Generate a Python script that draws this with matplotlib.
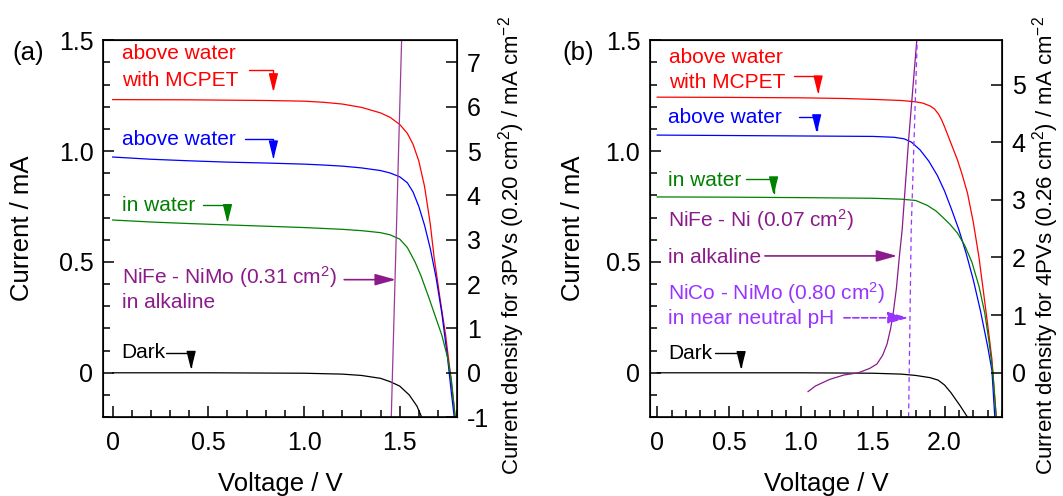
"""
I-V curves of the PV modules with the electrolyser load curves, panels (a) and (b)
"""
import matplotlib
matplotlib.use('Agg')
import matplotlib.pyplot as plt

plt.rcParams['font.family'] = 'Liberation Sans'
plt.rcParams['mathtext.fontset'] = 'custom'
plt.rcParams['mathtext.rm'] = 'Liberation Sans'
plt.rcParams['mathtext.default'] = 'regular'

# ---- panel (a): 3 PVs, 0.20 cm2 ----
area_a = 0.20
a_v_mcpet = [0, 0.4, 0.8, 1.0, 1.1, 1.2, 1.3, 1.4, 1.45, 1.5, 1.54, 1.57, 1.6, 1.63, 1.66, 1.68, 1.71, 1.74, 1.76, 1.78, 1.79]
a_i_mcpet = [1.232, 1.231, 1.228, 1.225, 1.22, 1.212, 1.197, 1.172, 1.152, 1.12, 1.08, 1.03, 0.955, 0.84, 0.67, 0.52, 0.34, 0.17, 0.03, -0.12, -0.2]
a_v_above = [0, 0.2, 0.4, 0.6, 0.8, 1.0, 1.1, 1.2, 1.3, 1.4, 1.45, 1.5, 1.54, 1.57, 1.6, 1.63, 1.66, 1.69, 1.72, 1.75, 1.77, 1.785]
a_i_above = [0.973, 0.963, 0.956, 0.95, 0.946, 0.941, 0.937, 0.932, 0.924, 0.912, 0.901, 0.884, 0.857, 0.815, 0.75, 0.665, 0.56, 0.43, 0.27, 0.07, -0.09, -0.2]
a_v_water = [0, 0.2, 0.4, 0.6, 0.8, 1.0, 1.2, 1.3, 1.4, 1.45, 1.5, 1.54, 1.58, 1.61, 1.65, 1.68, 1.72, 1.75, 1.77, 1.79]
a_i_water = [0.689, 0.68, 0.673, 0.667, 0.661, 0.655, 0.647, 0.641, 0.632, 0.622, 0.603, 0.565, 0.5, 0.44, 0.345, 0.27, 0.17, 0.07, -0.03, -0.2]
a_v_dark = [0, 0.5, 1.0, 1.2, 1.3, 1.4, 1.45, 1.5, 1.55, 1.59, 1.615]
a_i_dark = [0, 0, -0.002, -0.006, -0.012, -0.025, -0.04, -0.06, -0.1, -0.15, -0.2]
a_v_nifemo = [1.456, 1.51]
a_i_nifemo = [-0.2, 1.5]

# ---- panel (b): 4 PVs, 0.26 cm2 ----
area_b = 0.26
b_v_mcpet = [0, 0.5, 1.0, 1.3, 1.5, 1.7, 1.8, 1.85, 1.9, 1.93, 1.96, 1.98, 2.0, 2.03, 2.06, 2.09, 2.12, 2.16, 2.2, 2.24, 2.27, 2.3, 2.33, 2.36]
b_i_mcpet = [1.243, 1.242, 1.24, 1.237, 1.233, 1.228, 1.222, 1.216, 1.203, 1.19, 1.165, 1.14, 1.11, 1.06, 1.01, 0.96, 0.9, 0.81, 0.68, 0.52, 0.37, 0.22, 0.06, -0.2]
b_v_above = [0, 0.5, 1.0, 1.5, 1.65, 1.72, 1.77, 1.83, 1.89, 1.95, 2.0, 2.05, 2.1, 2.15, 2.2, 2.25, 2.3, 2.33, 2.35]
b_i_above = [1.072, 1.07, 1.068, 1.066, 1.062, 1.055, 1.04, 1.005, 0.955, 0.89, 0.82, 0.735, 0.645, 0.54, 0.42, 0.28, 0.12, 0.01, -0.2]
b_v_water = [0, 0.5, 1.0, 1.5, 1.7, 1.8, 1.88, 1.94, 1.99, 2.04, 2.09, 2.14, 2.19, 2.24, 2.28, 2.31, 2.335, 2.36]
b_i_water = [0.793, 0.792, 0.79, 0.787, 0.783, 0.777, 0.755, 0.73, 0.70, 0.668, 0.63, 0.575, 0.5, 0.39, 0.27, 0.14, 0.01, -0.2]
b_v_dark = [0, 1.0, 1.5, 1.7, 1.8, 1.9, 1.955, 2.0, 2.045, 2.11, 2.16]
b_i_dark = [0, 0, -0.002, -0.006, -0.012, -0.022, -0.033, -0.055, -0.09, -0.15, -0.2]
b_v_nifeni = [1.05, 1.1, 1.2, 1.3, 1.4, 1.48, 1.53, 1.57, 1.6, 1.625, 1.645, 1.665, 1.685, 1.705, 1.75, 1.807]
b_i_nifeni = [-0.085, -0.06, -0.03, -0.01, 0.0, 0.02, 0.04, 0.08, 0.13, 0.2, 0.28, 0.38, 0.52, 0.644, 1.05, 1.5]
b_v_nicomo = [1.75, 1.768, 1.81]
b_i_nicomo = [-0.2, 0.644, 1.5]

RED, BLUE, GREEN = '#ff0000', '#0000ff', '#008000'
PURPLE, VIOLET = '#8b1a8b', '#9933ff'
FS_TICK, FS_LAB, FS_TXT = 18, 18.5, 15


def elbow(ax, x0, y0, x1, y1, color, ls='-'):
    # horizontal leader from the label, then down to the curve
    ax.annotate('', xy=(x1, y1), xytext=(x0, y0),
                arrowprops=dict(arrowstyle='-|>,head_length=0.8,head_width=0.2',
                                color=color, lw=1, ls=ls, mutation_scale=14,
                                connectionstyle='angle,angleA=0,angleB=90,rad=0',
                                shrinkA=0, shrinkB=0))


def straight(ax, x0, y0, x1, y1, color, ls='-'):
    ax.annotate('', xy=(x1, y1), xytext=(x0, y0),
                arrowprops=dict(arrowstyle='-|>,head_length=0.9,head_width=0.25',
                                color=color, lw=1.2, ls=ls, mutation_scale=14,
                                shrinkA=0, shrinkB=0))


def setup(ax, xlim, area, rlabel, rticks, lab_x, rlab_x):
    ax.set_xlim(*xlim)
    ax.set_ylim(-0.2, 1.5)
    xt = [t for t in [0, 0.5, 1.0, 1.5, 2.0] if t <= xlim[1]]
    ax.set_xticks(xt)
    ax.set_xticklabels(['0', '0.5', '1.0', '1.5', '2.0'][:len(xt)])
    ax.set_xticks([i / 10 for i in range(0, int(xlim[1] * 10) + 1)], minor=True)
    ax.set_yticks([0, 0.5, 1.0, 1.5])
    ax.set_yticklabels(['0', '0.5', '1.0', '1.5'])
    ax.set_yticks([i / 10 for i in range(-2, 16)], minor=True)
    ax.tick_params(which='both', direction='in', labelsize=FS_TICK, top=False, width=1.1)
    ax.tick_params(which='major', length=8)
    ax.tick_params(which='minor', length=5)
    ax.tick_params(axis='x', pad=10)
    ax.tick_params(axis='y', pad=7)
    for s in ax.spines.values():
        s.set_linewidth(1.2)
    ax.set_xlabel('Voltage / V', fontsize=FS_LAB, labelpad=12)
    ax.set_ylabel('Current / mA', fontsize=FS_LAB)
    ax.yaxis.set_label_coords(lab_x, 0.5)
    ax2 = ax.twinx()
    ax2.set_ylim(-0.2 / area, 1.5 / area)
    ax2.set_yticks(rticks)
    ax2.set_yticklabels([str(t) for t in rticks])
    ax2.tick_params(direction='in', labelsize=FS_TICK, length=8, width=1.1, pad=7)
    ax2.set_ylabel(rlabel, fontsize=16)
    ax2.yaxis.set_label_coords(rlab_x, 0.456)
    return ax2


fig = plt.figure(figsize=(10.63, 4.96), dpi=100)
ax1 = fig.add_axes([0.097, 0.159, 0.333, 0.760])
ax2 = fig.add_axes([0.6115, 0.159, 0.3311, 0.760])

# ---- (a) ----
lw = 0.9
ax1.plot(a_v_mcpet, a_i_mcpet, color=RED, lw=lw)
ax1.plot(a_v_above, a_i_above, color=BLUE, lw=lw)
ax1.plot(a_v_water, a_i_water, color=GREEN, lw=lw)
ax1.plot(a_v_dark, a_i_dark, color='black', lw=lw)
ax1.plot(a_v_nifemo, a_i_nifemo, color='#9a3a9a', lw=lw)
setup(ax1, (-0.05, 1.80), area_a,
      'Current density for 3PVs (0.20 cm$^2$) / mA cm$^{-2}$', [-1, 0, 1, 2, 3, 4, 5, 6, 7],
      -0.195, 1.11)

ax1.text(0.047, 1.44, 'above water', color=RED, fontsize=FS_TXT, va='center')
ax1.text(0.047, 1.32, 'with MCPET', color=RED, fontsize=FS_TXT, va='center')
elbow(ax1, 0.71, 1.365, 0.84, 1.265, RED)
ax1.text(0.05, 1.05, 'above water', color=BLUE, fontsize=FS_TXT, va='center')
elbow(ax1, 0.69, 1.054, 0.84, 0.962, BLUE)
ax1.text(0.05, 0.755, 'in water', color=GREEN, fontsize=FS_TXT, va='center')
elbow(ax1, 0.47, 0.757, 0.60, 0.675, GREEN)
ax1.text(0.047, 0.09, 'Dark', color='black', fontsize=FS_TXT, va='center')
elbow(ax1, 0.28, 0.09, 0.41, 0.013, 'black')
ax1.text(0.05, 0.43, 'NiFe - NiMo (0.31 cm$^2$)', color=PURPLE, fontsize=FS_TXT, va='center')
ax1.text(0.05, 0.315, 'in alkaline', color=PURPLE, fontsize=FS_TXT, va='center')
straight(ax1, 1.21, 0.42, 1.48, 0.42, PURPLE)
fig.text(0.012, 0.893, '(a)', fontsize=FS_LAB, va='center')

# ---- (b) ----
ax2.plot(b_v_mcpet, b_i_mcpet, color=RED, lw=lw)
ax2.plot(b_v_above, b_i_above, color=BLUE, lw=lw)
ax2.plot(b_v_water, b_i_water, color=GREEN, lw=lw)
ax2.plot(b_v_dark, b_i_dark, color='black', lw=lw)
ax2.plot(b_v_nifeni, b_i_nifeni, color=PURPLE, lw=lw)
ax2.plot(b_v_nicomo, b_i_nicomo, color=VIOLET, lw=lw, ls=(0, (4, 3)))
setup(ax2, (-0.05, 2.40), area_b,
      'Current density for 4PVs (0.26 cm$^2$) / mA cm$^{-2}$', [0, 1, 2, 3, 4, 5],
      -0.185, 1.08)

ax2.text(0.08, 1.42, 'above water', color=RED, fontsize=FS_TXT, va='center')
ax2.text(0.08, 1.31, 'with MCPET', color=RED, fontsize=FS_TXT, va='center')
elbow(ax2, 0.95, 1.34, 1.12, 1.255, RED)
ax2.text(0.076, 1.15, 'above water', color=BLUE, fontsize=FS_TXT, va='center')
elbow(ax2, 0.99, 1.153, 1.11, 1.08, BLUE)
ax2.text(0.076, 0.865, 'in water', color=GREEN, fontsize=FS_TXT, va='center')
elbow(ax2, 0.62, 0.873, 0.81, 0.8, GREEN)
ax2.text(0.076, 0.69, 'NiFe - Ni (0.07 cm$^2$)', color=PURPLE, fontsize=FS_TXT, va='center')
ax2.text(0.076, 0.52, 'in alkaline', color=PURPLE, fontsize=FS_TXT, va='center')
straight(ax2, 0.75, 0.527, 1.67, 0.527, PURPLE)
ax2.text(0.076, 0.36, 'NiCo - NiMo (0.80 cm$^2$)', color=VIOLET, fontsize=FS_TXT, va='center')
ax2.text(0.076, 0.243, 'in near neutral pH', color=VIOLET, fontsize=FS_TXT, va='center')
straight(ax2, 1.30, 0.248, 1.75, 0.248, VIOLET, ls='--')
ax2.text(0.076, 0.086, 'Dark', color='black', fontsize=FS_TXT, va='center')
elbow(ax2, 0.40, 0.09, 0.584, 0.012, 'black')
fig.text(0.529, 0.893, '(b)', fontsize=FS_LAB, va='center')

fig.savefig('out.png', dpi=100)
